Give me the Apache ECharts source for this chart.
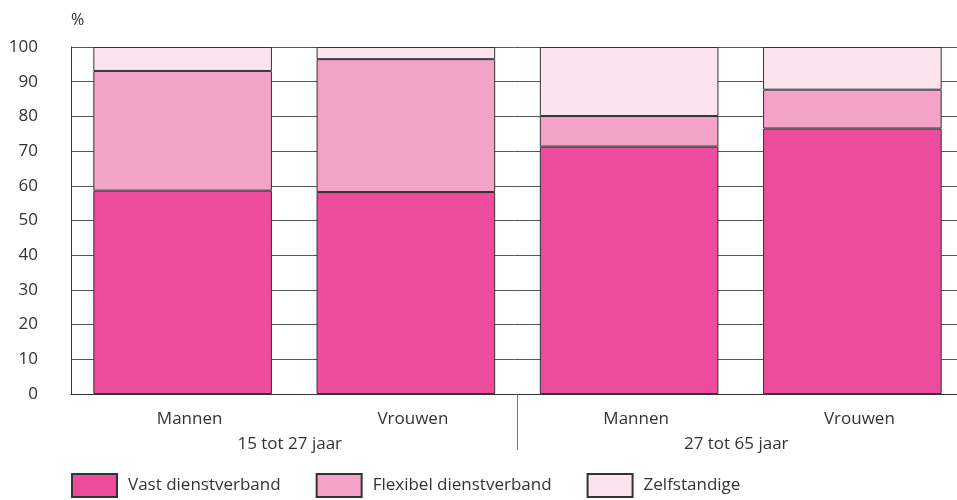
<!DOCTYPE html>
<html lang="nl">
<head>
    <meta charset="UTF-8">
    <title>Dienstverband naar leeftijd en geslacht</title>
    <style>
        html, body { margin: 0; padding: 0; background: #fff; }
        #main { width: 957px; height: 500px; }
    </style>
</head>
<body>
    <div id="main"></div>

    <script src="https://cdn.jsdelivr.net/npm/echarts@6/dist/echarts.min.js"></script>
    <script>
        // data
        var categories = ['Mannen', 'Vrouwen', 'Mannen', 'Vrouwen'];
        var groups = ['15 tot 27 jaar', '27 tot 65 jaar'];
        var vast = [58.6, 58.2, 71.3, 76.5];
        var flexibel = [34.5, 38.3, 8.8, 11.2];
        var zelfstandig = [6.9, 3.5, 19.9, 12.3];

        var font = '"Open Sans", "Noto Sans", sans-serif';
        var textColor = '#333';

        var chart = echarts.init(document.getElementById('main'));

        function bar(name, data, color) {
            return {
                name: name,
                type: 'bar',
                stack: 'total',
                barCategoryGap: '20%',
                data: data,
                itemStyle: { color: color, borderColor: '#333', borderWidth: 1 }
            };
        }

        var option = {
            animation: false,
            textStyle: { fontFamily: font },
            grid: { left: 71, top: 47, width: 893, height: 347, outerBoundsMode: 'none' },
            legend: {
                left: 66,
                top: 468,
                itemWidth: 45,
                itemHeight: 23,
                itemGap: 35,
                icon: 'rect',
                textStyle: { fontFamily: font, fontSize: 17, color: textColor, padding: [0, 0, 0, 6] },
                data: ['Vast dienstverband', 'Flexibel dienstverband', 'Zelfstandige']
            },
            xAxis: [
                {
                    type: 'category',
                    data: categories,
                    axisLine: { lineStyle: { color: '#333', width: 1 } },
                    axisTick: { show: false },
                    axisLabel: {
                        margin: 17,
                        fontSize: 17,
                        color: textColor,
                        fontFamily: font,
                        padding: [0, 0, 0, 14]
                    }
                },
                {
                    type: 'category',
                    position: 'bottom',
                    data: groups,
                    axisLine: { show: false },
                    axisTick: { show: false },
                    axisLabel: { margin: 42, fontSize: 17, color: textColor, fontFamily: font, padding: [0, 9, 0, 0] }
                },
                {
                    // divider between the two age groups
                    type: 'value',
                    position: 'bottom',
                    min: 0,
                    max: categories.length,
                    axisLine: { show: false },
                    axisLabel: { show: false },
                    splitLine: { show: false },
                    axisTick: {
                        show: true,
                        length: 56,
                        customValues: [2],
                        lineStyle: { color: '#777' }
                    }
                }
            ],
            yAxis: {
                type: 'value',
                min: 0,
                max: 100,
                interval: 10,
                name: '%',
                nameLocation: 'end',
                nameGap: 19,
                nameTextStyle: { align: 'left', fontSize: 16, color: textColor, fontFamily: font },
                axisLine: { show: true, lineStyle: { color: '#333' } },
                axisTick: { show: false },
                axisLabel: { margin: 33, fontSize: 17, color: textColor, fontFamily: font },
                splitLine: { lineStyle: { color: '#555', width: 1 } }
            },
            series: [
                bar('Vast dienstverband', vast, '#ED4B9B'),
                bar('Flexibel dienstverband', flexibel, '#F3A3C8'),
                bar('Zelfstandige', zelfstandig, '#FBE4EE')
            ]
        };
        option && chart.setOption(option);
    </script>
</body>
</html>
